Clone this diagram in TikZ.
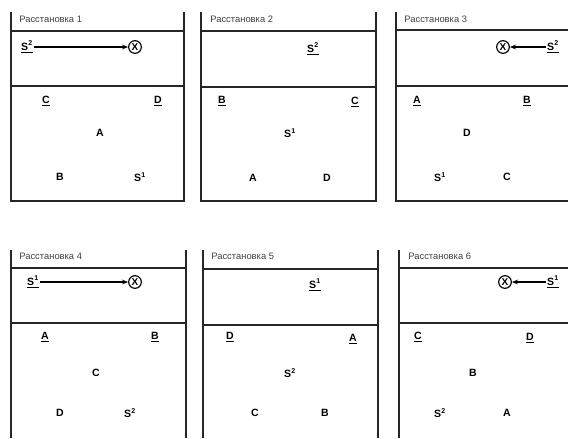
\documentclass[tikz,border=0pt]{standalone}
\usepackage{fontspec}
\setmainfont{Liberation Sans}
\usepackage{tikz}
\usetikzlibrary{arrows.meta}
\tikzset{
  court/.style={line width=1.1pt, black!85},
  netline/.style={line width=1.5pt, black!85},
  ttl/.style={anchor=west, font=\fontsize{8}{9}\selectfont, text=black!75, inner sep=1pt},
  pl/.style={font=\fontsize{9}{10}\selectfont\bfseries, inner sep=1pt},
  ball/.style={circle, draw, line width=1pt, inner sep=0.5pt, minimum size=3.8mm, font=\fontsize{8.5}{9}\selectfont\bfseries},
  arr/.style={-{Stealth[length=1.8mm, width=1.4mm]}, line width=0.9pt}
}
\newcommand{\ul}[1]{\underline{#1}}
\newcommand{\sv}[1]{S\textsuperscript{#1}}

\begin{document}
\begin{tikzpicture}[x=0.03cm, y=-0.03cm]
  \useasboundingbox (0,0) rectangle (568,438);
  % Расстановка 1
  \draw[court] (11,12) -- (11,201) -- (184,201) -- (184,12);
  \draw[court] (11,31) -- (184,31);
  \draw[netline] (11,86) -- (184,86);
  \node[ttl] (t1) at (18,19) {Расстановка 1};
  \node[pl] (s2a) at (27,47) {\ul{\sv{2}}};
  \node[ball] (xa) at (135,47) {X};
  \draw[arr] (s2a) -- (xa);
  \node[pl] (c1) at (46,101) {\ul{C}};
  \node[pl] (d1) at (158,101) {\ul{D}};
  \node[pl] (a1) at (100,133) {A};
  \node[pl] (b1) at (60,177) {B};
  \node[pl] (s1a) at (140,177) {\sv{1}};
  % Расстановка 2
  \draw[court] (201,12) -- (201,201) -- (376,201) -- (376,12);
  \draw[court] (201,31) -- (376,31);
  \draw[netline] (201,87) -- (376,87);
  \node[ttl] (t2) at (209,19) {Расстановка 2};
  \node[pl] (s2b) at (313,49) {\ul{\sv{2}}};
  \node[pl] (b2) at (222,101) {\ul{B}};
  \node[pl] (c2) at (355,102) {\ul{C}};
  \node[pl] (s1b) at (290,133) {\sv{1}};
  \node[pl] (a2) at (253,178) {A};
  \node[pl] (d2) at (327,178) {D};
  % Расстановка 3
  \draw[court] (396,12) -- (396,201) -- (568,201);
  \draw[court] (396,30) -- (568,30);
  \draw[netline] (396,86) -- (568,86);
  \node[ttl] (t3) at (403,19) {Расстановка 3};
  \node[ball] (xb) at (503,47) {X};
  \node[pl] (s2c) at (553,47) {\ul{\sv{2}}};
  \draw[arr] (s2c) -- (xb);
  \node[pl] (a3) at (417,101) {\ul{A}};
  \node[pl] (b3) at (527,101) {\ul{B}};
  \node[pl] (d3) at (467,133) {D};
  \node[pl] (s1c) at (440,177) {\sv{1}};
  \node[pl] (c3) at (507,177) {C};
  % Расстановка 4
  \draw[court] (11,250) -- (11,438);
  \draw[court] (186,250) -- (186,438);
  \draw[court] (11,268) -- (186,268);
  \draw[netline] (11,323) -- (186,323);
  \node[ttl] (t4) at (18,256) {Расстановка 4};
  \node[pl] (s1d) at (33,282) {\ul{\sv{1}}};
  \node[ball] (xc) at (135,282) {X};
  \draw[arr] (s1d) -- (xc);
  \node[pl] (a4) at (45,337) {\ul{A}};
  \node[pl] (b4) at (155,337) {\ul{B}};
  \node[pl] (c4) at (96,373) {C};
  \node[pl] (d4) at (60,413) {D};
  \node[pl] (s2d) at (130,413) {\sv{2}};
  % Расстановка 5
  \draw[court] (203,250) -- (203,438);
  \draw[court] (378,250) -- (378,438);
  \draw[court] (203,269) -- (378,269);
  \draw[netline] (203,325) -- (378,325);
  \node[ttl] (t5) at (210,256) {Расстановка 5};
  \node[pl] (s1e) at (315,285) {\ul{\sv{1}}};
  \node[pl] (d5) at (230,337) {\ul{D}};
  \node[pl] (a5) at (353,339) {\ul{A}};
  \node[pl] (s2e) at (290,373) {\sv{2}};
  \node[pl] (c5) at (255,413) {C};
  \node[pl] (b5) at (325,413) {B};
  % Расстановка 6
  \draw[court] (399,250) -- (399,438);
  \draw[court] (399,268) -- (568,268);
  \draw[netline] (399,323) -- (568,323);
  \node[ttl] (t6) at (407,256) {Расстановка 6};
  \node[ball] (xd) at (505,282) {X};
  \node[pl] (s1f) at (553,282) {\ul{\sv{1}}};
  \draw[arr] (s1f) -- (xd);
  \node[pl] (c6) at (418,337) {\ul{C}};
  \node[pl] (d6) at (530,338) {\ul{D}};
  \node[pl] (b6) at (473,373) {B};
  \node[pl] (s2f) at (440,413) {\sv{2}};
  \node[pl] (a6) at (507,413) {A};
\end{tikzpicture}
\end{document}
